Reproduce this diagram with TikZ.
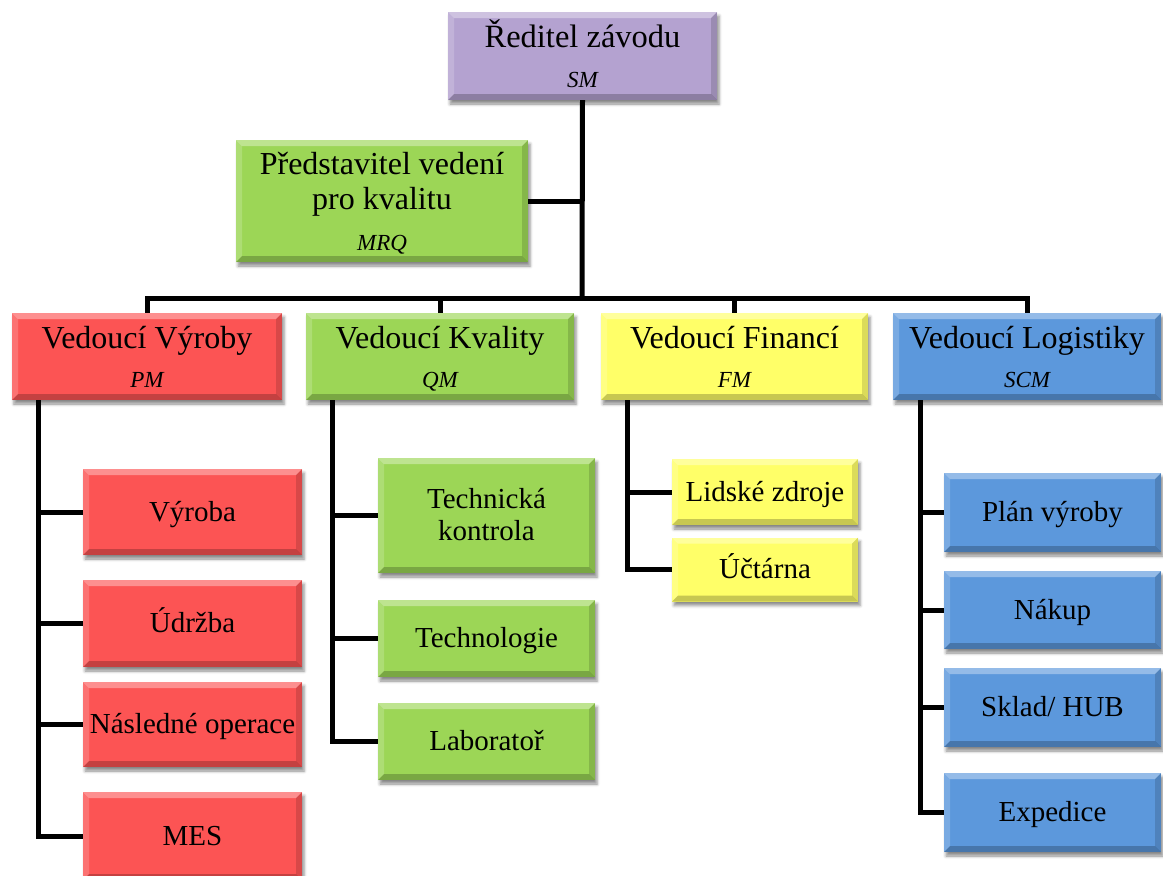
\documentclass[tikz,border=0pt]{standalone}
\usepackage{fontspec}
\setmainfont{Liberation Serif}
\usetikzlibrary{shadows,shadows.blur}

\definecolor{cPurple}{RGB}{180,162,208}
\definecolor{cGreen}{RGB}{156,214,86}
\definecolor{cRed}{RGB}{252,84,84}
\definecolor{cYellow}{RGB}{255,255,104}
\definecolor{cBlue}{RGB}{92,152,220}

% each line carries a strut so that lines with and without descenders align
\newcommand\fTop{\fontsize{32.5}{36}\selectfont\vphantom{Ýg}}
\newcommand\fHead{\fontsize{32}{34}\selectfont\vphantom{Ýg}}
\newcommand\fSub{\fontsize{23}{34}\selectfont\itshape\vphantom{ÝQg}}
\newcommand\fChild{\fontsize{29}{32}\selectfont\vphantom{Ýg}}

\tikzset{
  conn/.style={line width=5pt, black},
  orgbox/.style={
    fill=#1, draw=none, text=black, align=center, inner sep=0pt,
    blur shadow={shadow xshift=2pt, shadow yshift=-4pt,
                 shadow blur radius=3pt, shadow opacity=45},
    path picture={
      % bevelled edges: light on top/left, dark on bottom/right
      \fill[white,opacity=.35]
        (path picture bounding box.north west) --
        (path picture bounding box.north east) --
        ([shift={(-6,6)}]path picture bounding box.north east) --
        ([shift={(6,6)}]path picture bounding box.north west) -- cycle;
      \fill[white,opacity=.18]
        (path picture bounding box.north west) --
        ([shift={(6,6)}]path picture bounding box.north west) --
        ([shift={(6,-6)}]path picture bounding box.south west) --
        (path picture bounding box.south west) -- cycle;
      \fill[black,opacity=.22]
        (path picture bounding box.south west) --
        (path picture bounding box.south east) --
        ([shift={(-6,-6)}]path picture bounding box.south east) --
        ([shift={(6,-6)}]path picture bounding box.south west) -- cycle;
      \fill[black,opacity=.14]
        (path picture bounding box.north east) --
        (path picture bounding box.south east) --
        ([shift={(-6,-6)}]path picture bounding box.south east) --
        ([shift={(-6,6)}]path picture bounding box.north east) -- cycle;
    }},
  sz/.style 2 args={minimum width=#1, minimum height=#2},
}

\begin{document}
\begin{tikzpicture}[x=1pt, y=-1pt]
\useasboundingbox (0,0) rectangle (1163,876);

% top level
\node[orgbox=cPurple, sz={269pt}{88pt}] (sm) at (582.5,56)
  {\fTop Ředitel závodu\\[12pt]\fSub SM};
\node[orgbox=cGreen, sz={292pt}{122pt}] (mrq) at (382,201)
  {\fHead Představitel vedení\\[0pt]\fHead pro kvalitu\\[13pt]\fSub MRQ};

% department heads
\node[orgbox=cRed,    sz={270pt}{87pt}] (pm)  at (147,356.5)
  {\fHead Vedoucí Výroby\\[11pt]\fSub PM};
\node[orgbox=cGreen,  sz={268pt}{87pt}] (qm)  at (440,356.5)
  {\fHead Vedoucí Kvality\\[11pt]\fSub QM};
\node[orgbox=cYellow, sz={267pt}{87pt}] (fm)  at (734.5,356.5)
  {\fHead Vedoucí Financí\\[11pt]\fSub FM};
\node[orgbox=cBlue,   sz={268pt}{87pt}] (scm) at (1027,356.5)
  {\fHead Vedoucí Logistiky\\[11pt]\fSub SCM};

% production
\node[orgbox=cRed, sz={219pt}{86pt}] (vyr) at (192.5,512)   {\fChild Výroba};
\node[orgbox=cRed, sz={219pt}{87pt}] (udr) at (192.5,623.5) {\fChild Údržba};
\node[orgbox=cRed, sz={219pt}{85pt}] (nas) at (192.5,724.5) {\fChild Následné operace};
\node[orgbox=cRed, sz={219pt}{88pt}] (mes) at (192.5,836)   {\fChild MES};

% quality
\node[orgbox=cGreen, sz={217pt}{115pt}] (tk)  at (486.5,515.5) {\fChild Technická\\[0pt]\fChild kontrola};
\node[orgbox=cGreen, sz={217pt}{77pt}]  (tec) at (486.5,638.5) {\fChild Technologie};
\node[orgbox=cGreen, sz={217pt}{77pt}]  (lab) at (486.5,741.5) {\fChild Laboratoř};

% finance
\node[orgbox=cYellow, sz={186pt}{66pt}] (lz) at (765,492)   {\fChild Lidské zdroje};
\node[orgbox=cYellow, sz={186pt}{64pt}] (uc) at (765,569.5) {\fChild Účtárna};

% logistics
\node[orgbox=cBlue, sz={217pt}{79pt}] (plan) at (1052.5,512.5) {\fChild Plán výroby};
\node[orgbox=cBlue, sz={217pt}{78pt}] (nak)  at (1052.5,610)   {\fChild Nákup};
\node[orgbox=cBlue, sz={217pt}{79pt}] (skl)  at (1052.5,707.5) {\fChild Sklad/ HUB};
\node[orgbox=cBlue, sz={217pt}{79pt}] (exp)  at (1052.5,812.5) {\fChild Expedice};

% connectors
\coordinate (bus) at (582,298);
\draw[conn] (sm.south) -- (bus);
\draw[conn] (mrq.east) -- (mrq.east -| bus);
\draw[conn] (pm.north) |- (bus) -| (scm.north);
\draw[conn] (qm.north) -- (qm.north |- bus);
\draw[conn] (fm.north) -- (fm.north |- bus);

\coordinate (pmrail)  at ([xshift=27pt]pm.south west);
\coordinate (qmrail)  at ([xshift=27pt]qm.south west);
\coordinate (fmrail)  at ([xshift=27pt]fm.south west);
\coordinate (scmrail) at ([xshift=28pt]scm.south west);

\foreach \c in {vyr,udr,nas,mes} \draw[conn] (pmrail) |- (\c.west);
\foreach \c in {tk,tec,lab}      \draw[conn] (qmrail) |- (\c.west);
\foreach \c in {lz,uc}           \draw[conn] (fmrail) |- (\c.west);
\foreach \c in {plan,nak,skl,exp} \draw[conn] (scmrail) |- (\c.west);
\end{tikzpicture}
\end{document}
